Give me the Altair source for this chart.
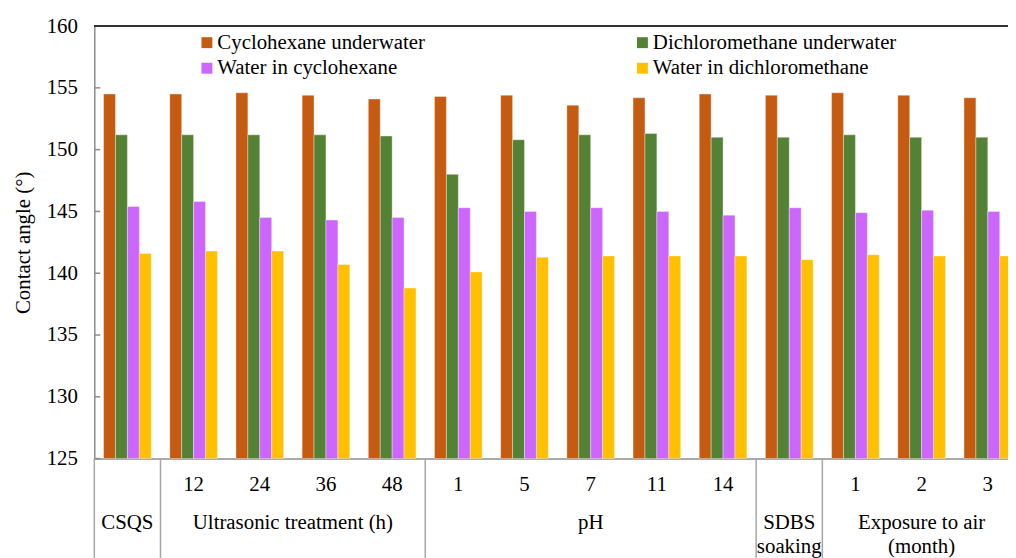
import altair as alt
import pandas as pd

groups = ["CSQS", "U12", "U24", "U36", "U48", "pH1", "pH5", "pH7", "pH11", "pH14", "SDBS", "E1", "E2", "E3"]
tick_labels = ["", "12", "24", "36", "48", "1", "5", "7", "11", "14", "", "1", "2", "3"]
series = ["Cyclohexane underwater", "Dichloromethane underwater", "Water in cyclohexane", "Water in dichloromethane"]
colors = ["#C55A11", "#548235", "#CC66FF", "#FFC000"]
legend_order = ["Cyclohexane underwater", "Water in cyclohexane", "Dichloromethane underwater", "Water in dichloromethane"]
legend_colors = ["#C55A11", "#CC66FF", "#548235", "#FFC000"]

cyclohexane_uw = [154.5, 154.5, 154.6, 154.4, 154.1, 154.3, 154.4, 153.6, 154.2, 154.5, 154.4, 154.6, 154.4, 154.2]
dcm_uw = [151.2, 151.2, 151.2, 151.2, 151.1, 148.0, 150.8, 151.2, 151.3, 151.0, 151.0, 151.2, 151.0, 151.0]
water_in_cyc = [145.4, 145.8, 144.5, 144.3, 144.5, 145.3, 145.0, 145.3, 145.0, 144.7, 145.3, 144.9, 145.1, 145.0]
water_in_dcm = [141.6, 141.8, 141.8, 140.7, 138.8, 140.1, 141.3, 141.4, 141.4, 141.4, 141.1, 141.5, 141.4, 141.4]

category_names = ["CSQS", "Ultrasonic treatment (h)", "pH", "SDBS\nsoaking", "Exposure to air\n(month)"]
category_centers = [0.5, 3.0, 7.5, 10.5, 12.5]
category_bounds = [0, 1, 5, 10, 11]
y_ticks = [125, 130, 135, 140, 145, 150, 155, 160]

FONT = "Liberation Serif"
FS = 21
W = 921
RANGE_W = 934
H = 436

rows = []
for s, vals in zip(series, [cyclohexane_uw, dcm_uw, water_in_cyc, water_in_dcm]):
    for g, v in zip(groups, vals):
        rows.append({"group": g, "series": s, "value": v})
df = pd.DataFrame(rows)

ticks_df = pd.DataFrame({"group": groups, "label": tick_labels})
cat_df = pd.DataFrame({"pos": category_centers, "name": category_names})
bound_df = pd.DataFrame({"pos": category_bounds})
ytick_df = pd.DataFrame({"v": y_ticks})

band_scale = alt.Scale(domain=groups, range=[0, RANGE_W], paddingInner=0.28, paddingOuter=0.14)
lin_scale = alt.Scale(domain=[0, 14], range=[0, RANGE_W])
y_scale = alt.Scale(domain=[125, 160], zero=False, nice=False)

bars = alt.Chart(df).mark_bar(stroke="#FFFFFF", strokeWidth=0.6, strokeOpacity=0.6).encode(
    x=alt.X("group:N", scale=band_scale, sort=groups,
            axis=alt.Axis(labels=False, ticks=False, title=None, domain=True,
                          domainColor="#8C8C8C", domainWidth=1.5)),
    xOffset=alt.XOffset("series:N", sort=series, scale=alt.Scale(domain=series, paddingInner=0, paddingOuter=0)),
    y=alt.Y("value:Q", scale=y_scale,
            axis=alt.Axis(values=y_ticks, title="Contact angle (°)", ticks=False, grid=False,
                          labelFont=FONT, labelFontSize=FS, labelColor="#000000", labelPadding=17,
                          titleFont=FONT, titleFontSize=FS, titleFontWeight="normal", titleColor="#000000",
                          titlePadding=13, domainColor="#8C8C8C", domainWidth=1.5)),
    y2=alt.datum(125),
    color=alt.Color("series:N", scale=alt.Scale(domain=legend_order, range=legend_colors),
                    legend=alt.Legend(title=None, orient="none", legendX=103, legendY=6, columns=2,
                                      symbolType="square", symbolSize=121, symbolStrokeWidth=0,
                                      labelFont=FONT, labelFontSize=FS, labelColor="#000000",
                                      labelOffset=0, columnPadding=208, rowPadding=4, padding=0,
                                      labelLimit=400)),
)

ytick_rules = alt.Chart(ytick_df).mark_rule(color="#8C8C8C", strokeWidth=1.5).encode(
    y=alt.Y("v:Q", scale=y_scale),
    x=alt.value(0),
    x2=alt.value(6),
)

top_line = alt.Chart(ytick_df).mark_rule(color="#333333", strokeWidth=1.5).encode(
    y=alt.value(0), x=alt.value(0), x2=alt.value(RANGE_W)
)

tick_text = alt.Chart(ticks_df).mark_text(font=FONT, fontSize=FS, baseline="alphabetic", color="#000000").encode(
    x=alt.X("group:N", scale=band_scale, sort=groups, axis=None),
    y=alt.value(H + 33),
    text="label:N",
)

cat_text = alt.Chart(cat_df).mark_text(font=FONT, fontSize=FS, baseline="alphabetic", lineBreak="\n",
                                       lineHeight=24, color="#000000").encode(
    x=alt.X("pos:Q", scale=lin_scale, axis=None),
    y=alt.value(H + 71),
    text="name:N",
)

bounds = alt.Chart(bound_df).mark_rule(color="#A6A6A6", strokeWidth=1.5).encode(
    x=alt.X("pos:Q", scale=lin_scale, axis=None),
    y=alt.value(H),
    y2=alt.value(H + 100),
)

chart = alt.layer(bars, ytick_rules, top_line, tick_text, cat_text, bounds).resolve_scale(
    x="independent"
).properties(
    width=W, height=H,
    padding={"left": 87, "top": 16, "right": 0, "bottom": 98},
    autosize=alt.AutoSizeParams(type="none"),
).configure_view(strokeWidth=0)

chart.save("out.html", embed_options={"renderer": "svg", "actions": False})
